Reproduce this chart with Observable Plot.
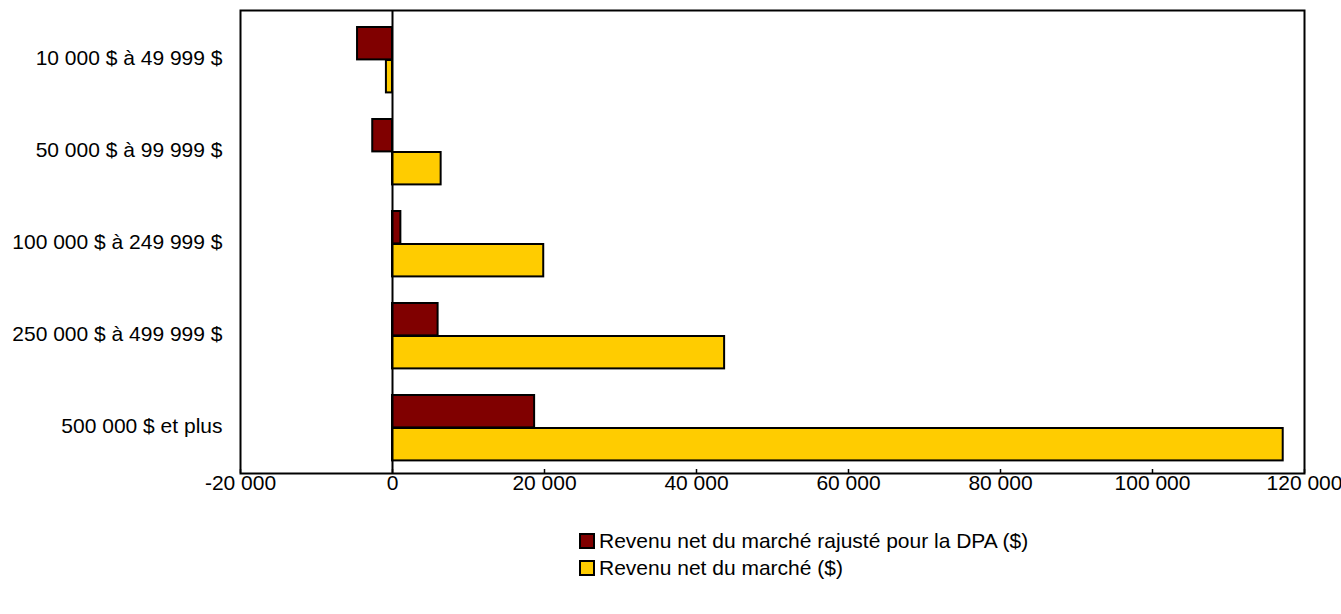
<!DOCTYPE html>
<html>
<head>
<meta charset="utf-8">
<script src="https://cdn.jsdelivr.net/npm/d3@7"></script>
<script src="https://cdn.jsdelivr.net/npm/@observablehq/plot@0.6"></script>
<style>
  body { margin: 0; background: #fff; font-family: "Liberation Sans", Arial, sans-serif; }
  #legend { margin-top: 27px; padding-left: 579px; font-size: 21px; color: #000; }
  .item { display: flex; align-items: center; height: 27px; }
  .sw { width: 12px; height: 12px; border: 2px solid #000; margin-right: 4px; box-sizing: content-box; }
</style>
</head>
<body>
<div id="chart"></div>
<div id="legend"></div>
<script>
const categories = ["10 000 $ à 49 999 $", "50 000 $ à 99 999 $", "100 000 $ à 249 999 $", "250 000 $ à 499 999 $", "500 000 $ et plus"];
const seriesNames = ["Revenu net du marché rajusté pour la DPA ($)", "Revenu net du marché ($)"];
const adjusted = [-4600, -2600, 1100, 6000, 18700];
const market = [-800, 6400, 19900, 43700, 117200];
const xTicks = [-20000, 0, 20000, 40000, 60000, 80000, 100000, 120000];
const colors = ["#800000", "#FFCC00"];

const rowsA = categories.map((c, i) => ({cat: c, value: adjusted[i]}));
const rowsB = categories.map((c, i) => ({cat: c, value: market[i]}));

const fmt = d => d3.format(",")(d).replace(/,/g, " ").replace("−", "-");

const H = 500, mt = 10, mb = 27;
const band = (H - mt - mb) / categories.length;

const chart = Plot.plot({
  width: 1341,
  height: H,
  marginTop: mt,
  marginBottom: mb,
  marginLeft: 240,
  marginRight: 37,
  style: { fontFamily: "Liberation Sans, Arial, sans-serif", fontSize: "21px", color: "#000", background: "#fff", overflow: "visible" },
  x: { domain: [-20000, 120000], label: null },
  y: { domain: categories, padding: 0, label: null },
  marks: [
    Plot.barX(rowsA, { x: "value", y: "cat", fill: colors[0], stroke: "#000", strokeWidth: 2, insetTop: 15, insetBottom: band - 48 }),
    Plot.barX(rowsB, { x: "value", y: "cat", fill: colors[1], stroke: "#000", strokeWidth: 2, insetTop: 48, insetBottom: band - 81 }),
    Plot.ruleX([0], { stroke: "#000", strokeWidth: 2 }),
    Plot.ruleX(xTicks, { x: d => d, stroke: "#000", strokeWidth: 1.5, insetTop: H - mt - mb - 4 }),
    Plot.frame({ stroke: "#000", strokeWidth: 2 }),
    Plot.axisX(xTicks, { tickSize: 0, tickPadding: 2, tickFormat: fmt, fontSize: 21, label: null }),
    Plot.axisY({ tickSize: 0, tickPadding: 18, fontSize: 21, label: null })
  ]
});
document.getElementById("chart").appendChild(chart);

const legend = document.getElementById("legend");
seriesNames.forEach((name, i) => {
  const it = document.createElement("div");
  it.className = "item";
  const sw = document.createElement("span");
  sw.className = "sw";
  sw.style.background = colors[i];
  const t = document.createElement("span");
  t.textContent = name;
  it.appendChild(sw);
  it.appendChild(t);
  legend.appendChild(it);
});
</script>
</body>
</html>
